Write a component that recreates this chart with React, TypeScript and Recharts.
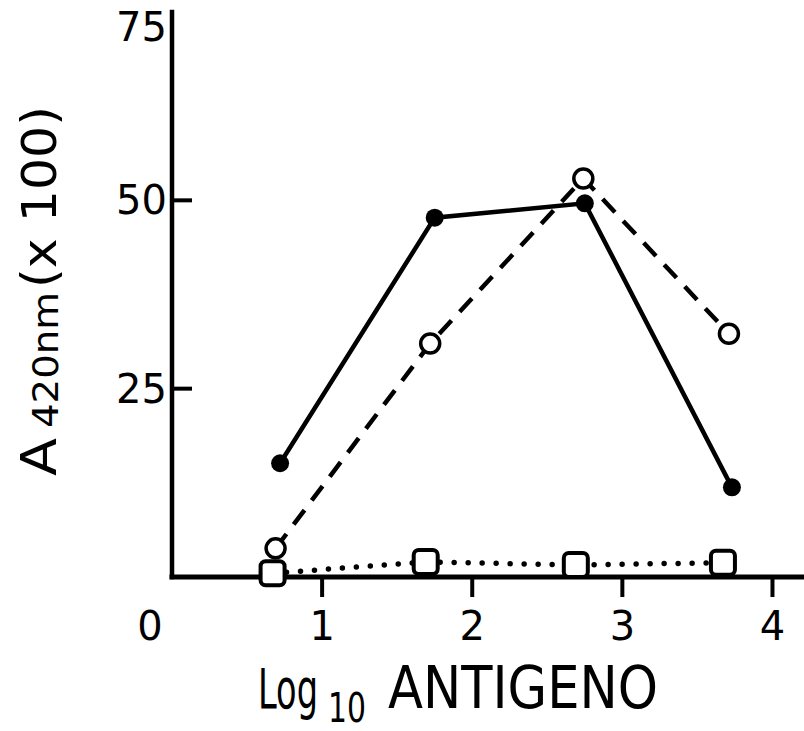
import { ComposedChart, Line, XAxis, YAxis } from "recharts";

// Absorbance vs log10 antigen, three series
const filledX = [0.72, 1.75, 2.75, 3.73];
const filledY = [15.1, 47.7, 49.6, 11.9];
const openX = [0.69, 1.72, 2.74, 3.71];
const openY = [3.8, 31.0, 52.9, 32.3];
const squareX = [0.67, 1.69, 2.69, 3.67];
const squareY = [0.5, 2.0, 1.6, 1.9];

const xTicks = [0, 1, 2, 3, 4];
const yTicks = [25, 50, 75];

const FONT = "DejaVu Sans";

const toPoints = (xs: number[], ys: number[]) => xs.map((x, i) => ({ x, y: ys[i] }));

const filledData = toPoints(filledX, filledY);
const openData = toPoints(openX, openY);
const squareData = toPoints(squareX, squareY);

const FilledDot = (p: any) => (
  <circle key={`f-${p.index}`} cx={p.cx} cy={p.cy} r={9} fill="#000" />
);

const OpenDot = (p: any) => (
  <circle key={`o-${p.index}`} cx={p.cx} cy={p.cy} r={9.5} fill="#fff" stroke="#000" strokeWidth={3.5} />
);

const SquareDot = (p: any) => (
  <rect
    key={`s-${p.index}`}
    x={p.cx - 12}
    y={p.cy - 12}
    width={24}
    height={24}
    rx={5}
    fill="#fff"
    stroke="#000"
    strokeWidth={4}
  />
);

const XTick = (p: any) => {
  const v = p.payload.value;
  return (
    <g>
      {v !== 0 && <line x1={p.x} x2={p.x} y1={p.y} y2={p.y + 20} stroke="#000" strokeWidth={4} />}
      <text x={v === 0 ? p.x - 22 : p.x} y={p.y + 63} textAnchor="middle" fontSize={40} fontFamily={FONT} fill="#000">
        {v}
      </text>
    </g>
  );
};

const YTick = (p: any) => {
  const v = p.payload.value;
  const isTop = v === 75;
  return (
    <g>
      {!isTop && <line x1={p.x} x2={p.x + 20} y1={p.y} y2={p.y} stroke="#000" strokeWidth={4} />}
      <text x={p.x - 5} y={p.y + (isTop ? 29 : 14)} textAnchor="end" fontSize={40} fontFamily={FONT} fill="#000">
        {v}
      </text>
    </g>
  );
};

const XLabel = () => (
  <g fill="#000" fontFamily={FONT}>
    <text x={258} y={708} fontSize={56} textLength={60} lengthAdjust="spacingAndGlyphs">Log</text>
    <text x={328} y={722} fontSize={40} textLength={38} lengthAdjust="spacingAndGlyphs">10</text>
    <text x={388} y={708} fontSize={58} textLength={270} lengthAdjust="spacingAndGlyphs">ANTIGENO</text>
  </g>
);

const YLabel = () => (
  <g fill="#000" fontFamily={FONT}>
    <text transform="translate(56,476) rotate(-90)" fontSize={50} textLength={38} lengthAdjust="spacingAndGlyphs">A</text>
    <text transform="translate(58,428) rotate(-90)" fontSize={36} textLength={136} lengthAdjust="spacingAndGlyphs">420nm</text>
    <text transform="translate(56,288) rotate(-90)" fontSize={48} textLength={182} lengthAdjust="spacingAndGlyphs">(x 100)</text>
  </g>
);

export default function App() {
  return (
    <div style={{ position: "absolute", left: 0, top: 0, background: "#fff" }}>
      <ComposedChart width={804} height={731} margin={{ top: 12, right: 0, bottom: 0, left: 0 }}>
        <XAxis
          dataKey="x"
          type="number"
          domain={[0, 4.21]}
          ticks={xTicks}
          allowDataOverflow
          height={154}
          tickSize={0}
          tickMargin={0}
          tickLine={false}
          tick={<XTick />}
          axisLine={{ stroke: "#000", strokeWidth: 5, strokeLinecap: "square" }}
          label={<XLabel />}
        />
        <XAxis
          xAxisId="top"
          orientation="top"
          type="number"
          domain={[0, 4.21]}
          height={0}
          tick={false}
          tickLine={false}
          axisLine={{ stroke: "#000", strokeWidth: 4, strokeLinecap: "square" }}
        />
        <YAxis
          type="number"
          domain={[0, 75]}
          ticks={yTicks}
          width={172}
          tickSize={0}
          tickMargin={0}
          tickLine={false}
          tick={<YTick />}
          axisLine={{ stroke: "#000", strokeWidth: 4.5, strokeLinecap: "square" }}
          label={<YLabel />}
        />
        <Line
          data={squareData}
          dataKey="y"
          type="linear"
          stroke="#000"
          strokeWidth={5.5}
          strokeDasharray="0 14"
          strokeLinecap="round"
          dot={SquareDot}
          activeDot={false}
          isAnimationActive={false}
        />
        <Line
          data={openData}
          dataKey="y"
          type="linear"
          stroke="#000"
          strokeWidth={4.5}
          strokeDasharray="18 12"
          dot={OpenDot}
          activeDot={false}
          isAnimationActive={false}
        />
        <Line
          data={filledData}
          dataKey="y"
          type="linear"
          stroke="#000"
          strokeWidth={4.5}
          dot={FilledDot}
          activeDot={false}
          isAnimationActive={false}
        />
      </ComposedChart>
    </div>
  );
}
